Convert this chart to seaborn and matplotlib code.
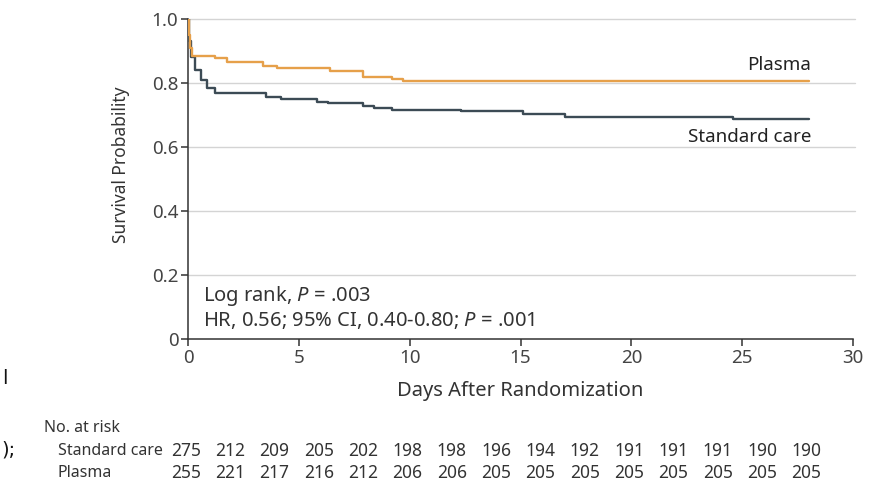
"""Kaplan-Meier style survival curves: plasma vs standard care."""
import numpy as np
import pandas as pd
import matplotlib.pyplot as plt
import matplotlib.transforms as mtransforms
import seaborn as sns

# step curves (time in days, survival after the step)
plasma_days = [0, 0.05, 0.1, 0.2, 1.2, 1.75, 3.4, 4.0, 6.4, 7.9, 9.2, 9.7, 28]
plasma_surv = [1.0, 0.95, 0.91, 0.885, 0.877, 0.866, 0.852, 0.846, 0.836, 0.82, 0.813, 0.805, 0.805]
std_days = [0, 0.05, 0.15, 0.3, 0.6, 0.85, 1.2, 3.5, 4.2, 5.8, 6.3, 7.9, 8.4, 9.2,
            12.3, 15.1, 17.0, 24.6, 28]
std_surv = [1.0, 0.93, 0.88, 0.84, 0.81, 0.783, 0.77, 0.757, 0.749, 0.742, 0.736, 0.729,
            0.723, 0.717, 0.712, 0.703, 0.695, 0.687, 0.687]

risk_days = list(range(0, 29, 2))
risk_std = [275, 212, 209, 205, 202, 198, 198, 196, 194, 192, 191, 191, 191, 190, 190]
risk_plasma = [255, 221, 217, 216, 212, 206, 206, 205, 205, 205, 205, 205, 205, 205, 205]

df = pd.concat([
    pd.DataFrame({"days": std_days, "surv": std_surv, "group": "Standard care"}),
    pd.DataFrame({"days": plasma_days, "surv": plasma_surv, "group": "Plasma"}),
])

sns.set_theme(style="white")
plt.rcParams["font.family"] = ["Noto Sans", "DejaVu Sans"]
plt.rcParams["mathtext.fontset"] = "custom"
plt.rcParams["mathtext.rm"] = "Noto Sans"
plt.rcParams["mathtext.it"] = "Noto Sans:italic"
ink = "#333333"
fs = 13.5

fig = plt.figure(figsize=(8.76, 4.84), dpi=100)
ax = fig.add_axes([188 / 876, 1 - 339 / 484, 665 / 876, 320 / 484])

sns.lineplot(df, x="days", y="surv", hue="group", estimator=None, sort=False,
             palette={"Standard care": "#3c4b55", "Plasma": "#e6a04a"},
             drawstyle="steps-post", lw=1.7, legend=False, ax=ax, zorder=3)

ax.set_xlim(0, 30); ax.set_ylim(0, 1.0)
ax.set_xticks(range(0, 31, 5))
ax.set_yticks([0, 0.2, 0.4, 0.6, 0.8, 1.0])
ax.set_yticklabels(["0", "0.2", "0.4", "0.6", "0.8", "1.0"])
for y in [0.2, 0.4, 0.6, 0.8, 1.0]:
    ax.axhline(y, color="#d4d4d4", lw=1, zorder=1, clip_on=False, xmax=1.003)
for s in ["top", "right"]:
    ax.spines[s].set_visible(False)
for s in ["left", "bottom"]:
    ax.spines[s].set_color(ink); ax.spines[s].set_linewidth(1.1)
ax.tick_params(axis="both", direction="out", length=5, width=1.1, color=ink,
               labelsize=fs, labelcolor="#444444", left=True, bottom=True, pad=2)
ax.set_xlabel("Days After Randomization", fontsize=14.5, color=ink, labelpad=10)
ax.set_ylabel("Survival Probability", fontsize=12.5, color=ink)
ax.yaxis.set_label_coords(-0.087, 0.544)

ax.text(28.1, 0.856, "Plasma", ha="right", va="center", fontsize=fs, color="#222222")
ax.text(28.1, 0.631, "Standard care", ha="right", va="center", fontsize=fs, color="#222222")
ax.text(0.68, 0.134, "Log rank, $P$ = .003", ha="left", va="center",
        fontsize=14.5, color=ink)
ax.text(0.68, 0.059, "HR, 0.56; 95% CI, 0.40-0.80; $P$ = .001", ha="left",
        va="center", fontsize=14.5, color=ink)

# number at risk table below the axis
tr = mtransforms.blended_transform_factory(ax.transData, ax.transAxes)
ls, rs = 11.5, 12.5
ax.text(-0.2165, -0.278, "No. at risk", transform=ax.transAxes, ha="left", va="center",
        fontsize=ls, color=ink)
ax.text(-0.1955, -0.35, "Standard care", transform=ax.transAxes, ha="left", va="center",
        fontsize=ls, color=ink)
ax.text(-0.1955, -0.419, "Plasma", transform=ax.transAxes, ha="left", va="center",
        fontsize=ls, color=ink)
for d, a, b in zip(risk_days, risk_std, risk_plasma):
    ax.text(d - 0.1, -0.35, str(a), transform=tr, ha="center", va="center", fontsize=rs, color=ink)
    ax.text(d - 0.1, -0.419, str(b), transform=tr, ha="center", va="center", fontsize=rs, color=ink)

# text fragments at the left edge of the source page
fig.text(2 / 876, 1 - 379 / 484, "l", ha="left", va="center", fontsize=14,
         color="#111111", family="DejaVu Sans")
fig.text(1 / 876, 1 - 450 / 484, ");", ha="left", va="center", fontsize=14,
         color="#111111", family="DejaVu Sans")

fig.savefig("out.png", dpi=100, facecolor="white")
